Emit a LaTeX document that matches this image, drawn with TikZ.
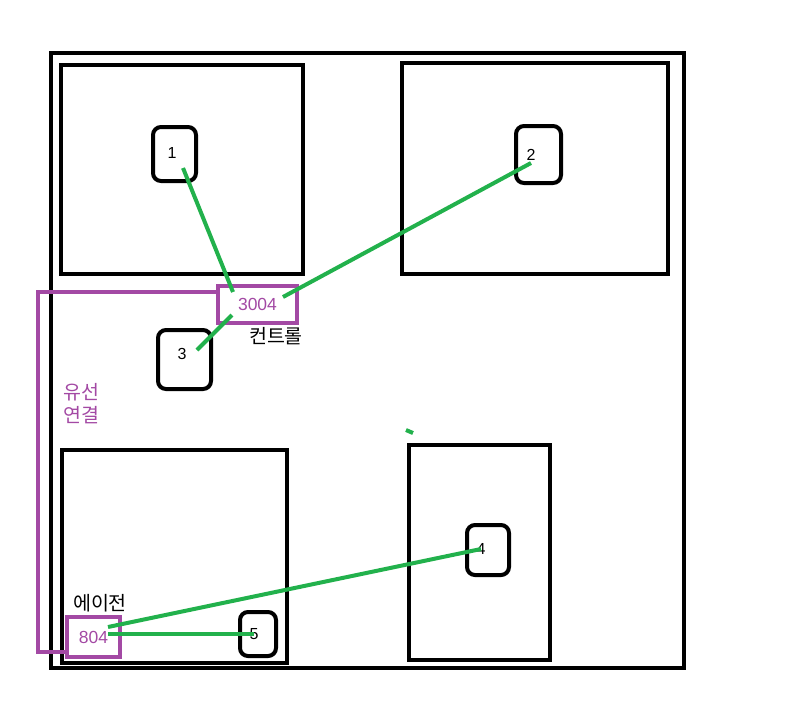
\documentclass[tikz,border=0pt]{standalone}
\usepackage{fontspec}
\setmainfont{Liberation Sans}
\newfontfamily\krfont{Noto Sans CJK KR}
\definecolor{paintpurple}{HTML}{A349A4}
\definecolor{paintgreen}{HTML}{22B14C}

\tikzset{
  room/.style={draw=black,line width=4pt},
  dev/.style={draw=black,line width=4pt,rounded corners=8pt},
  port/.style={draw=paintpurple,line width=4pt,text=paintpurple,font=\fontsize{17.5}{20}\selectfont},
  digit/.style={inner sep=0pt,font=\fontsize{16}{18}\selectfont},
  krtext/.style={inner sep=0pt,font=\krfont\fontsize{19.5}{23}\selectfont},
  link/.style={paintgreen,line width=4pt},
  wire/.style={paintpurple,line width=4pt}
}

\begin{document}
\begin{tikzpicture}[x=1pt,y=-1pt]
                \useasboundingbox (0,0) rectangle (789,716);
                % house and rooms
                \draw[room] (51,53) rectangle (684,668);
                \draw[room] (61,65) rectangle (303,274);
                \draw[room] (402,63) rectangle (668,274);
                \draw[room] (62,450) rectangle (287,663);
                \draw[room] (409,445) rectangle (550,660);
                % devices
                \node[dev,minimum width=43,minimum height=54] (b1) at (174.5,154) {};
                \node[dev,minimum width=45,minimum height=57] (b2) at (538.5,154.5) {};
                \node[dev,minimum width=53,minimum height=59] (b3) at (184.5,359.5) {};
                \node[dev,minimum width=42,minimum height=50] (b4) at (488,550) {};
                \node[dev,minimum width=36,minimum height=44] (b5) at (258,634) {};
                \node[digit] (d1) at (172,153) {1};
                \node[digit] (d2) at (531,155) {2};
                \node[digit] (d3) at (182,354) {3};
                \node[digit] (d4) at (481,549) {4};
                \node[digit] (d5) at (254,634) {5};
                % control and agent
                \node[port,minimum width=79,minimum height=37,inner sep=0pt] (ctrl) at (257.5,304.5) {3004};
                \node[krtext] (ctrllbl) at (276,336) {컨트롤};
                \node[port,minimum width=53,minimum height=40,inner sep=0pt] (agent) at (93.5,637) {804};
                \node[krtext] (agentlbl) at (100,603) {에이전};
                % wired connection
                \draw[wire] ([yshift=12.5pt]ctrl.west) -- ++(-178,0) |- ([yshift=-15pt]agent.west);
                \node[krtext,text=paintpurple,align=left] (wirelbl) at (81,404) {유선\\연결};
                % links
                \draw[link] ([shift={(11,15)}]d1.center) -- ([shift={(-24.5,-12.5)}]ctrl.center);
                \draw[link] ([shift={(0,8)}]d2.center) -- ([shift={(25.5,-7.5)}]ctrl.center);
                \draw[link] ([shift={(-25.5,10.5)}]ctrl.center) -- ([shift={(15,-4)}]d3.center);
                \draw[link] ([shift={(14.5,-10)}]agent.center) -- (d4.center);
                \draw[link] ([shift={(14.5,-3)}]agent.center) -- (d5.center);
                \draw[link] (406,430) -- (413,433);
            \end{tikzpicture}
\end{document}
